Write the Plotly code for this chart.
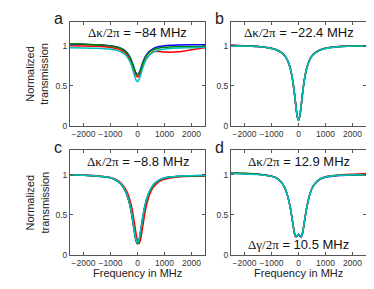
import plotly.graph_objects as go

# Frequency grid (MHz)
freq = [-2500, -2000, -1500, -1000, -800, -600, -500, -400, -300, -250, -200, -150, -100, -50,
        0, 50, 100, 150, 200, 250, 300, 400, 500, 600, 800, 1000, 1500, 2000, 2500]

# Panel a
a_blue = [1.022, 1.018, 1.013, 1.000, 0.989, 0.968, 0.949, 0.919, 0.872, 0.838, 0.796, 0.747, 0.697, 0.657,
          0.640, 0.656, 0.696, 0.746, 0.795, 0.837, 0.871, 0.917, 0.947, 0.968, 0.990, 1.002, 1.010, 1.012, 1.012]
a_red = [1.000, 0.998, 0.993, 0.978, 0.966, 0.944, 0.925, 0.895, 0.847, 0.812, 0.770, 0.720, 0.670, 0.630,
         0.610, 0.620, 0.655, 0.700, 0.745, 0.785, 0.820, 0.870, 0.905, 0.928, 0.928, 0.922, 0.925, 0.950, 0.975]
a_green = [1.027, 1.021, 1.013, 0.998, 0.986, 0.963, 0.944, 0.914, 0.866, 0.832, 0.791, 0.742, 0.692, 0.652,
           0.636, 0.652, 0.690, 0.740, 0.788, 0.828, 0.862, 0.908, 0.936, 0.954, 0.973, 0.982, 0.989, 0.989, 0.987]
a_cyan = [0.976, 0.974, 0.970, 0.958, 0.946, 0.923, 0.902, 0.868, 0.814, 0.776, 0.728, 0.673, 0.616, 0.570,
          0.552, 0.571, 0.617, 0.674, 0.729, 0.777, 0.815, 0.869, 0.903, 0.925, 0.948, 0.961, 0.973, 0.977, 0.981]

# Panel b
b_blue = [1.004, 1.000, 0.992, 0.968, 0.948, 0.909, 0.874, 0.815, 0.715, 0.638, 0.536, 0.406, 0.257, 0.126,
          0.071, 0.126, 0.257, 0.406, 0.536, 0.638, 0.715, 0.815, 0.874, 0.909, 0.948, 0.968, 0.990, 0.998, 1.002]
b_red = [1.006, 1.001, 0.990, 0.966, 0.944, 0.904, 0.868, 0.810, 0.709, 0.632, 0.530, 0.402, 0.254, 0.124,
         0.070, 0.127, 0.260, 0.410, 0.540, 0.642, 0.718, 0.817, 0.875, 0.910, 0.949, 0.969, 0.990, 0.997, 1.001]
b_green = [1.003, 0.999, 0.991, 0.967, 0.947, 0.908, 0.873, 0.814, 0.714, 0.637, 0.535, 0.405, 0.256, 0.125,
           0.068, 0.125, 0.256, 0.405, 0.535, 0.637, 0.714, 0.814, 0.873, 0.908, 0.947, 0.967, 0.989, 0.997, 1.001]
b_cyan = [1.002, 0.998, 0.990, 0.966, 0.946, 0.907, 0.872, 0.814, 0.714, 0.637, 0.535, 0.405, 0.256, 0.125,
          0.070, 0.125, 0.256, 0.405, 0.535, 0.637, 0.714, 0.814, 0.872, 0.907, 0.946, 0.966, 0.989, 0.996, 1.000]

# Panel c
c_blue = [0.996, 0.991, 0.981, 0.959, 0.931, 0.876, 0.826, 0.756, 0.645, 0.568, 0.473, 0.365, 0.256, 0.170,
          0.138, 0.169, 0.255, 0.364, 0.471, 0.566, 0.643, 0.754, 0.824, 0.875, 0.929, 0.957, 0.978, 0.984, 0.988]
c_red = [0.998, 0.994, 0.985, 0.964, 0.940, 0.890, 0.847, 0.792, 0.702, 0.645, 0.568, 0.473, 0.365, 0.256,
         0.170, 0.137, 0.169, 0.255, 0.364, 0.471, 0.566, 0.702, 0.792, 0.847, 0.912, 0.942, 0.970, 0.978, 0.982]
c_green = [0.995, 0.990, 0.980, 0.958, 0.930, 0.875, 0.824, 0.754, 0.643, 0.566, 0.471, 0.363, 0.254, 0.168,
           0.135, 0.167, 0.253, 0.362, 0.469, 0.564, 0.641, 0.752, 0.822, 0.873, 0.927, 0.955, 0.976, 0.982, 0.986]
c_cyan = [0.996, 0.991, 0.982, 0.961, 0.934, 0.879, 0.829, 0.760, 0.650, 0.574, 0.480, 0.373, 0.266, 0.181,
          0.150, 0.181, 0.266, 0.373, 0.479, 0.573, 0.649, 0.758, 0.828, 0.878, 0.931, 0.959, 0.980, 0.986, 0.990]

# Panel d
d_blue = [1.015, 1.010, 1.002, 0.978, 0.952, 0.886, 0.826, 0.727, 0.578, 0.478, 0.368, 0.268, 0.222, 0.232,
          0.252, 0.232, 0.222, 0.268, 0.368, 0.478, 0.578, 0.727, 0.826, 0.880, 0.940, 0.966, 0.988, 0.996, 1.000]
d_red = [1.020, 1.014, 1.004, 0.980, 0.954, 0.888, 0.829, 0.730, 0.580, 0.480, 0.370, 0.270, 0.226, 0.236,
         0.256, 0.236, 0.226, 0.270, 0.370, 0.480, 0.580, 0.730, 0.830, 0.886, 0.946, 0.972, 0.994, 1.004, 1.012]
d_green = [1.020, 1.015, 1.005, 0.980, 0.955, 0.890, 0.830, 0.730, 0.580, 0.480, 0.370, 0.270, 0.225, 0.235,
           0.255, 0.235, 0.225, 0.270, 0.370, 0.480, 0.580, 0.730, 0.830, 0.885, 0.945, 0.970, 0.990, 0.993, 0.993]
d_cyan = [1.012, 1.008, 1.000, 0.977, 0.952, 0.887, 0.828, 0.729, 0.579, 0.479, 0.369, 0.269, 0.228, 0.238,
          0.258, 0.238, 0.228, 0.269, 0.369, 0.479, 0.579, 0.729, 0.828, 0.883, 0.943, 0.968, 0.990, 0.996, 1.000]

panels = [
    ("a", [a_blue, a_red, a_green, a_cyan], "−84"),
    ("b", [b_blue, b_red, b_green, b_cyan], "−22.4"),
    ("c", [c_blue, c_red, c_green, c_cyan], "−8.8"),
    ("d", [d_blue, d_red, d_green, d_cyan], "12.9"),
]
colors = ["#0000ff", "#ff0000", "#008000", "#00bfbf"]

xticks = [-2000, -1000, 0, 1000, 2000]
xticklabels = ["−2000", "−1000", "0", "1000", "2000"]
yticks = [0, 0.5, 1]
yticklabels = ["0", "0.5", "1"]

W, H = 374, 289
xdom = {"a": (62, 197), "b": (223, 358), "c": (62, 197), "d": (223, 358)}
ydom = {"a": (14, 120), "b": (14, 120), "c": (145, 251), "d": (145, 251)}

fig = go.Figure()
SANS = "Liberation Sans, Arial, sans-serif"
SERIF = "Liberation Serif, Times New Roman, serif"

for i, (name, series, dk) in enumerate(panels):
    ax = "" if i == 0 else str(i + 1)
    for s, c in zip(series, colors):
        fig.add_trace(go.Scatter(x=freq, y=s, mode="lines", xaxis="x" + ax, yaxis="y" + ax,
                                 line=dict(color=c, width=1.5, shape="spline", smoothing=0.8),
                                 showlegend=False, hoverinfo="skip"))
    x0, x1 = xdom[name]
    y0, y1 = ydom[name]
    common = dict(showline=True, linecolor="#555555", linewidth=1, mirror="ticks",
                  ticks="inside", ticklen=3, tickcolor="#555555", showgrid=False, zeroline=False,
                  tickfont=dict(family=SANS, size=8.5, color="#333333"))
    fig.layout["xaxis" + ax] = dict(domain=[x0 / W, x1 / W], range=[-2500, 2500],
                                    tickvals=xticks, ticktext=xticklabels,
                                    anchor="y" + ax, **common)
    fig.layout["yaxis" + ax] = dict(domain=[1 - y1 / H, 1 - y0 / H], range=[0, 1.3],
                                    tickvals=yticks, ticktext=yticklabels,
                                    anchor="x" + ax, ticklabelstandoff=0, **common)
    # panel letter
    fig.add_annotation(x=(x0 - 12) / W, y=1 - (y0 - 1) / H, xref="paper", yref="paper",
                       text=name, showarrow=False, xanchor="center", yanchor="bottom",
                       font=dict(family=SANS, size=16, color="#222222"), yshift=-8)
    # Delta kappa annotation
    fig.add_annotation(x=(x0 + x1) / 2 / W, y=1 - (y0 + 11) / H, xref="paper", yref="paper",
                       text=f"<span style='font-family:{SERIF}'>Δκ/2π</span> = {dk} MHz",
                       showarrow=False, xanchor="center", yanchor="middle",
                       font=dict(family=SANS, size=13, color="#111111"))

fig.add_annotation(x=290.5 / W, y=1 - 241 / H, xref="paper", yref="paper",
                   text=f"<span style='font-family:{SERIF}'>Δγ/2π</span> = 10.5 MHz",
                   showarrow=False, xanchor="center", yanchor="middle",
                   font=dict(family=SANS, size=13, color="#111111"))

for yc in [67, 198]:
    fig.add_annotation(x=29 / W, y=1 - yc / H, xref="paper", yref="paper",
                       text="Normalized<br>transmission", textangle=-90, showarrow=False,
                       xanchor="center", yanchor="middle",
                       font=dict(family=SANS, size=11, color="#222222"))

for xc in [129.5, 290.5]:
    fig.add_annotation(x=xc / W, y=1 - 270 / H, xref="paper", yref="paper",
                       text="Frequency in MHz", showarrow=False,
                       xanchor="center", yanchor="middle",
                       font=dict(family=SANS, size=11, color="#222222"))

fig.update_layout(width=W, height=H, margin=dict(l=0, r=0, t=0, b=0),
                  plot_bgcolor="white", paper_bgcolor="white")

fig.write_html("out.html")
